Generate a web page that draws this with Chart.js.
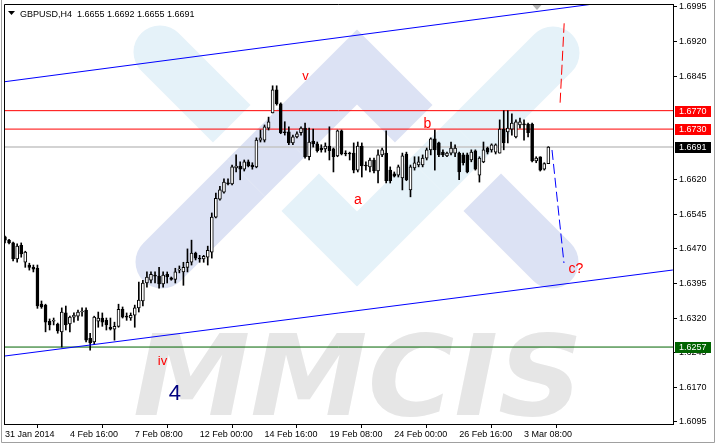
<!DOCTYPE html>
<html>
<head>
<meta charset="utf-8">
<title>GBPUSD,H4</title>
<script src="https://cdn.jsdelivr.net/npm/chart.js@4.4.1/dist/chart.umd.min.js"></script>
<style>
	html, body { margin: 0; padding: 0; background: #fff; }
	#wrap { width: 716px; height: 445px; }
</style>
</head>
<body>
<div id="wrap"><canvas id="gbpChart" width="716" height="445"></canvas></div>
<script>
// H4 candles, 31 Jan 2014 00:00 .. 4 Mar 2014 08:00 (bar index 0..134)
const opens = [
	1.6496, 1.6489, 1.6483, 1.6448, 1.6478, 1.6441, 1.6435, 1.6430, 1.6428, 1.6350,
	1.6348, 1.6313, 1.6313, 1.6307, 1.6290, 1.6331, 1.6307, 1.6322, 1.6324, 1.6333,
	1.6337, 1.6276, 1.6268, 1.6313, 1.6320, 1.6315, 1.6300, 1.6296, 1.6302, 1.6339,
	1.6324, 1.6320, 1.6326, 1.6342, 1.6357, 1.6396, 1.6402, 1.6413, 1.6411, 1.6394,
	1.6415, 1.6407, 1.6404, 1.6424, 1.6420, 1.6430, 1.6441, 1.6461, 1.6450, 1.6448,
	1.6452, 1.6463, 1.6539, 1.6578, 1.6593, 1.6613, 1.6611, 1.6646, 1.6650, 1.6643,
	1.6659, 1.6652, 1.6648, 1.6706, 1.6706, 1.6732, 1.6765, 1.6815, 1.6785, 1.6724,
	1.6724, 1.6700, 1.6713, 1.6722, 1.6732, 1.6670, 1.6704, 1.6698, 1.6689, 1.6687,
	1.6693, 1.6687, 1.6672, 1.6726, 1.6678, 1.6678, 1.6678, 1.6641, 1.6693, 1.6652,
	1.6648, 1.6663, 1.6639, 1.6674, 1.6678, 1.6641, 1.6633, 1.6630, 1.6624, 1.6676,
	1.6598, 1.6646, 1.6652, 1.6652, 1.6667, 1.6685, 1.6709, 1.6700, 1.6680, 1.6672,
	1.6678, 1.6678, 1.6678, 1.6674, 1.6674, 1.6663, 1.6683, 1.6630, 1.6659, 1.6689,
	1.6685, 1.6680, 1.6678, 1.6730, 1.6724, 1.6730, 1.6713, 1.6739, 1.6741, 1.6741,
	1.6741, 1.6661, 1.6670, 1.6643, 1.6655
];
const highs = [
	1.6498, 1.6491, 1.6485, 1.6481, 1.6483, 1.6465, 1.6439, 1.6435, 1.6435, 1.6357,
	1.6350, 1.6318, 1.6320, 1.6309, 1.6342, 1.6346, 1.6324, 1.6331, 1.6337, 1.6342,
	1.6342, 1.6287, 1.6324, 1.6333, 1.6331, 1.6320, 1.6320, 1.6311, 1.6350, 1.6344,
	1.6331, 1.6331, 1.6348, 1.6398, 1.6402, 1.6420, 1.6420, 1.6420, 1.6430, 1.6420,
	1.6420, 1.6409, 1.6428, 1.6433, 1.6441, 1.6470, 1.6489, 1.6463, 1.6456, 1.6456,
	1.6476, 1.6548, 1.6591, 1.6606, 1.6622, 1.6622, 1.6652, 1.6674, 1.6659, 1.6663,
	1.6663, 1.6657, 1.6711, 1.6728, 1.6739, 1.6756, 1.6824, 1.6824, 1.6787, 1.6746,
	1.6735, 1.6717, 1.6724, 1.6735, 1.6743, 1.6732, 1.6730, 1.6702, 1.6696, 1.6700,
	1.6735, 1.6689, 1.6728, 1.6728, 1.6683, 1.6680, 1.6700, 1.6702, 1.6700, 1.6659,
	1.6667, 1.6667, 1.6685, 1.6689, 1.6726, 1.6648, 1.6637, 1.6652, 1.6678, 1.6680,
	1.6652, 1.6670, 1.6670, 1.6674, 1.6689, 1.6711, 1.6728, 1.6702, 1.6685, 1.6680,
	1.6702, 1.6696, 1.6680, 1.6678, 1.6678, 1.6685, 1.6685, 1.6670, 1.6702, 1.6691,
	1.6698, 1.6698, 1.6750, 1.6770, 1.6770, 1.6763, 1.6750, 1.6754, 1.6750, 1.6743,
	1.6743, 1.6670, 1.6670, 1.6657, 1.6692
];
const lows = [
	1.6483, 1.6481, 1.6444, 1.6441, 1.6452, 1.6430, 1.6424, 1.6420, 1.6341, 1.6341,
	1.6290, 1.6294, 1.6305, 1.6287, 1.6257, 1.6294, 1.6290, 1.6311, 1.6315, 1.6324,
	1.6268, 1.6250, 1.6263, 1.6300, 1.6302, 1.6294, 1.6294, 1.6272, 1.6300, 1.6320,
	1.6315, 1.6315, 1.6300, 1.6333, 1.6346, 1.6387, 1.6396, 1.6396, 1.6385, 1.6387,
	1.6396, 1.6402, 1.6396, 1.6418, 1.6391, 1.6420, 1.6435, 1.6446, 1.6441, 1.6441,
	1.6435, 1.6450, 1.6537, 1.6576, 1.6591, 1.6609, 1.6609, 1.6637, 1.6620, 1.6639,
	1.6648, 1.6643, 1.6646, 1.6702, 1.6702, 1.6728, 1.6765, 1.6782, 1.6720, 1.6717,
	1.6696, 1.6696, 1.6711, 1.6717, 1.6667, 1.6663, 1.6691, 1.6680, 1.6680, 1.6680,
	1.6663, 1.6637, 1.6670, 1.6674, 1.6672, 1.6663, 1.6635, 1.6637, 1.6626, 1.6641,
	1.6637, 1.6635, 1.6613, 1.6670, 1.6613, 1.6613, 1.6626, 1.6626, 1.6598, 1.6618,
	1.6583, 1.6641, 1.6648, 1.6648, 1.6663, 1.6674, 1.6641, 1.6670, 1.6670, 1.6670,
	1.6674, 1.6670, 1.6620, 1.6652, 1.6635, 1.6659, 1.6641, 1.6615, 1.6657, 1.6676,
	1.6680, 1.6676, 1.6678, 1.6685, 1.6700, 1.6717, 1.6711, 1.6732, 1.6706, 1.6713,
	1.6659, 1.6657, 1.6639, 1.6641, 1.6655
];
const closes = [
	1.6489, 1.6483, 1.6448, 1.6476, 1.6459, 1.6463, 1.6430, 1.6426, 1.6346, 1.6344,
	1.6311, 1.6305, 1.6315, 1.6292, 1.6333, 1.6305, 1.6322, 1.6326, 1.6333, 1.6335,
	1.6272, 1.6266, 1.6322, 1.6320, 1.6311, 1.6305, 1.6296, 1.6302, 1.6339, 1.6322,
	1.6322, 1.6326, 1.6342, 1.6359, 1.6396, 1.6409, 1.6415, 1.6411, 1.6394, 1.6413,
	1.6409, 1.6404, 1.6420, 1.6426, 1.6430, 1.6441, 1.6461, 1.6450, 1.6448, 1.6454,
	1.6467, 1.6539, 1.6580, 1.6598, 1.6615, 1.6611, 1.6648, 1.6650, 1.6643, 1.6659,
	1.6650, 1.6648, 1.6706, 1.6711, 1.6735, 1.6746, 1.6815, 1.6785, 1.6722, 1.6722,
	1.6700, 1.6713, 1.6720, 1.6732, 1.6670, 1.6702, 1.6698, 1.6683, 1.6685, 1.6693,
	1.6683, 1.6670, 1.6726, 1.6676, 1.6676, 1.6676, 1.6641, 1.6693, 1.6650, 1.6650,
	1.6663, 1.6639, 1.6674, 1.6685, 1.6618, 1.6618, 1.6628, 1.6648, 1.6672, 1.6620,
	1.6648, 1.6657, 1.6659, 1.6667, 1.6685, 1.6709, 1.6685, 1.6674, 1.6674, 1.6678,
	1.6689, 1.6689, 1.6637, 1.6657, 1.6637, 1.6680, 1.6643, 1.6667, 1.6685, 1.6680,
	1.6696, 1.6696, 1.6730, 1.6700, 1.6732, 1.6743, 1.6746, 1.6746, 1.6739, 1.6722,
	1.6661, 1.6667, 1.6641, 1.6655, 1.6691
];

// axes
const xTickIdx = [0, 16, 32, 48, 64, 80, 96, 112, 128];
const xTickText = ['31 Jan 2014', '4 Feb 16:00', '7 Feb 08:00', '12 Feb 00:00', '14 Feb 16:00',
	'19 Feb 08:00', '24 Feb 00:00', '26 Feb 16:00', '3 Mar 08:00'];
const yTicks = [1.6995, 1.6920, 1.6845, 1.6620, 1.6545, 1.6470, 1.6395, 1.6320, 1.6245, 1.6170, 1.6095];
const xMin = -0.2466, xMax = 164.74;
const yMin = 1.60900, yMax = 1.70015;

// horizontal levels (price, colour of line / label box)
const levelPrices = [1.6770, 1.6730, 1.6691, 1.6257];
const levelColors = ['#ff0000', '#ff0000', '#c4c4c4', '#006400'];
const levelBoxColors = ['#ff0000', '#ff0000', '#000000', '#006400'];

// channel and forecast lines: [bar index, price]
const upperChannel = [[0, 1.68329], [145.5, 1.70019]];
const lowerChannel = [[0, 1.62376], [164.7, 1.64242]];
const forecastUp = [[136.9, 1.67873], [137.9, 1.69596]];
const forecastDown = [[134.9, 1.66847], [137.85, 1.64394]];

// wave labels: text, bar index, price, colour, size
const waveText = ['v', 'b', 'a', 'c?', 'iv', '4'];
const waveIdx = [74.1, 104.2, 87.05, 140.8, 38.84, 41.9];
const wavePrice = [1.68453, 1.67411, 1.65762, 1.64253, 1.62257, 1.61551];
const waveColor = ['#ff0000', '#ff0000', '#ff0000', '#ff0000', '#ff0000', '#000080'];
const waveSize = [13, 14, 14, 14, 13, 22];

const FONT = '"Liberation Sans", Arial, sans-serif';

function toXY(pts) {
	return pts.map(p => ({ x: p[0], y: p[1] }));
}

function band(ctx, pts, width, color, cap) {
	ctx.beginPath();
	ctx.moveTo(pts[0][0], pts[0][1]);
	for (let k = 1; k < pts.length; k++) ctx.lineTo(pts[k][0], pts[k][1]);
	ctx.lineWidth = width;
	ctx.strokeStyle = color;
	ctx.lineCap = cap;
	ctx.lineJoin = 'miter';
	ctx.stroke();
}

// MMCIS logo behind the candles
const watermark = {
	id: 'watermark',
	beforeDraw(chart) {
		const ctx = chart.ctx;
		const a = chart.chartArea;
		ctx.save();
		ctx.fillStyle = '#fff';
		ctx.fillRect(0, 0, chart.width, chart.height);
		ctx.beginPath();
		ctx.rect(a.left, a.top, a.right - a.left, a.bottom - a.top);
		ctx.clip();

		const W = 53, G = 22;
		const blue = '#e5f2f9', lilac = '#dce2f4';
		band(ctx, [[160, 52], [357, 249], [553, 53]], W, blue, 'round');
		band(ctx, [[162, 262], [357, 67], [552, 262]], W, lilac, 'round');
		const d = 28 / Math.SQRT2;
		// left crossing: lilac over blue
		band(ctx, [[266 + d, 158 - d], [266 - d, 158 + d]], W + 2 * G, '#fff', 'butt');
		band(ctx, [[266 + d, 158 - d], [266 - d, 158 + d]], W, lilac, 'butt');
		// right crossing: blue over lilac
		band(ctx, [[448 - d, 158 + d], [448 + d, 158 - d]], W + 2 * G, '#fff', 'butt');
		band(ctx, [[448 - d, 158 + d], [448 + d, 158 - d]], W, blue, 'butt');

		ctx.font = 'italic bold 112px "DejaVu Sans"';
		const tw = ctx.measureText('MMCIS').width;
		ctx.translate(133, 415);
		ctx.scale(450 / tw, 1);
		ctx.fillStyle = '#e6e6e6';
		ctx.textBaseline = 'alphabetic';
		ctx.fillText('MMCIS', 0, 0);
		ctx.restore();
	}
};

// frame, header, wave labels and price boxes
const overlay = {
	id: 'overlay',
	afterDraw(chart) {
		const ctx = chart.ctx;
		const a = chart.chartArea;
		const xs = chart.scales.x, ys = chart.scales.y;
		ctx.save();

		// chart border (left / top)
		ctx.strokeStyle = '#000';
		ctx.lineWidth = 1;
		ctx.beginPath();
		ctx.moveTo(a.left + 0.5, a.bottom);
		ctx.lineTo(a.left + 0.5, a.top + 0.5);
		ctx.lineTo(a.right, a.top + 0.5);
		ctx.stroke();

		// window frame
		ctx.strokeStyle = '#a0a0a0';
		ctx.beginPath();
		ctx.moveTo(1.5, 0);
		ctx.lineTo(1.5, 442.5);
		ctx.lineTo(714.5, 442.5);
		ctx.lineTo(714.5, 0);
		ctx.stroke();

		// chart shift marker
		const sx = xs.getPixelForValue(131.2);
		ctx.fillStyle = '#b4b4b4';
		ctx.beginPath();
		ctx.moveTo(sx - 4.5, a.top + 1);
		ctx.lineTo(sx + 4.5, a.top + 1);
		ctx.lineTo(sx, a.top + 6);
		ctx.closePath();
		ctx.fill();

		// header
		ctx.fillStyle = '#000';
		ctx.beginPath();
		ctx.moveTo(8, 11);
		ctx.lineTo(15, 11);
		ctx.lineTo(11.5, 15);
		ctx.closePath();
		ctx.fill();
		ctx.font = '9px ' + FONT;
		ctx.textBaseline = 'alphabetic';
		ctx.textAlign = 'left';
		ctx.fillText('GBPUSD,H4  ' + [opens[134], highs[134], lows[134], closes[134]].map(v => v.toFixed(4)).join(' '), 20, 16.5);

		// wave labels
		ctx.textAlign = 'center';
		ctx.textBaseline = 'middle';
		waveText.forEach((t, k) => {
			ctx.fillStyle = waveColor[k];
			ctx.font = waveSize[k] + 'px ' + FONT;
			ctx.fillText(t, xs.getPixelForValue(waveIdx[k]), ys.getPixelForValue(wavePrice[k]));
		});

		// price boxes on the axis
		ctx.font = '9px ' + FONT;
		ctx.textAlign = 'left';
		levelPrices.forEach((p, k) => {
			const y = ys.getPixelForValue(p);
			ctx.fillStyle = levelBoxColors[k];
			ctx.fillRect(a.right + 2, Math.round(y) - 5, 36, 11);
			ctx.fillStyle = '#fff';
			ctx.fillText(p.toFixed(4), a.right + 6, y + 0.5);
		});
		ctx.restore();
	}
};

const lineDs = (pts, color, dash, order, width) => ({
	type: 'line',
	data: toXY(pts),
	borderColor: color,
	borderWidth: width || 1,
	borderDash: dash || [],
	pointRadius: 0,
	fill: false,
	order: order
});

const datasets = [];
levelPrices.forEach((p, k) => {
	datasets.push(lineDs([[xMin - 1, p], [xMax + 1, p]], levelColors[k], null, 3, k === 2 ? 1.5 : 1));
});
datasets.push({
	label: 'wicks',
	data: opens.map((o, i) => ({ x: i, y: [lows[i], highs[i]] })),
	backgroundColor: '#000',
	barThickness: 1,
	grouped: false,
	order: 2
});
datasets.push({
	label: 'bodies',
	data: opens.map((o, i) => ({ x: i, y: [o, closes[i]] })),
	backgroundColor: opens.map((o, i) => closes[i] > o ? '#fff' : '#000'),
	borderColor: '#000',
	borderWidth: 1,
	borderSkipped: false,
	barThickness: 3,
	minBarLength: 1,
	grouped: false,
	order: 1
});
datasets.push(lineDs(upperChannel, '#0000ff', null, 0));
datasets.push(lineDs(lowerChannel, '#0000ff', null, 0));
datasets.push(lineDs(forecastUp, '#ff0000', [10, 4], 0));
datasets.push(lineDs(forecastDown, '#0000ff', [10, 4], 0));

Chart.defaults.font.family = FONT;
Chart.defaults.font.size = 9;
Chart.defaults.color = '#000';

new Chart(document.getElementById('gbpChart'), {
	type: 'bar',
	data: { datasets: datasets },
	options: {
		responsive: false,
		animation: false,
		devicePixelRatio: 1,
		layout: { padding: { left: 4, top: 4, right: 0, bottom: 0 } },
		plugins: {
			legend: { display: false },
			tooltip: { enabled: false }
		},
		scales: {
			x: {
				type: 'linear',
				min: xMin,
				max: xMax,
				offset: false,
				afterBuildTicks: s => { s.ticks = xTickIdx.map(v => ({ value: v })); },
				afterFit: s => { s.height = 21; s.paddingLeft = 0; s.paddingRight = 0; },
				ticks: {
					autoSkip: false,
					maxRotation: 0,
					align: 'start',
					padding: 1,
					color: '#000',
					callback: (v, idx) => xTickText[idx]
				},
				grid: { drawOnChartArea: false, tickLength: 4, color: '#000' },
				border: { color: '#000' }
			},
			y: {
				position: 'right',
				min: yMin,
				max: yMax,
				afterBuildTicks: s => { s.ticks = yTicks.map(v => ({ value: v })); },
				afterFit: s => { s.width = 43; s.paddingTop = 0; s.paddingBottom = 0; },
				ticks: {
					padding: 2,
					color: '#000',
					callback: v => v.toFixed(4)
				},
				grid: { drawOnChartArea: false, tickLength: 4, color: '#000' },
				border: { color: '#000' }
			}
		}
	},
	plugins: [watermark, overlay]
});
</script>
</body>
</html>
